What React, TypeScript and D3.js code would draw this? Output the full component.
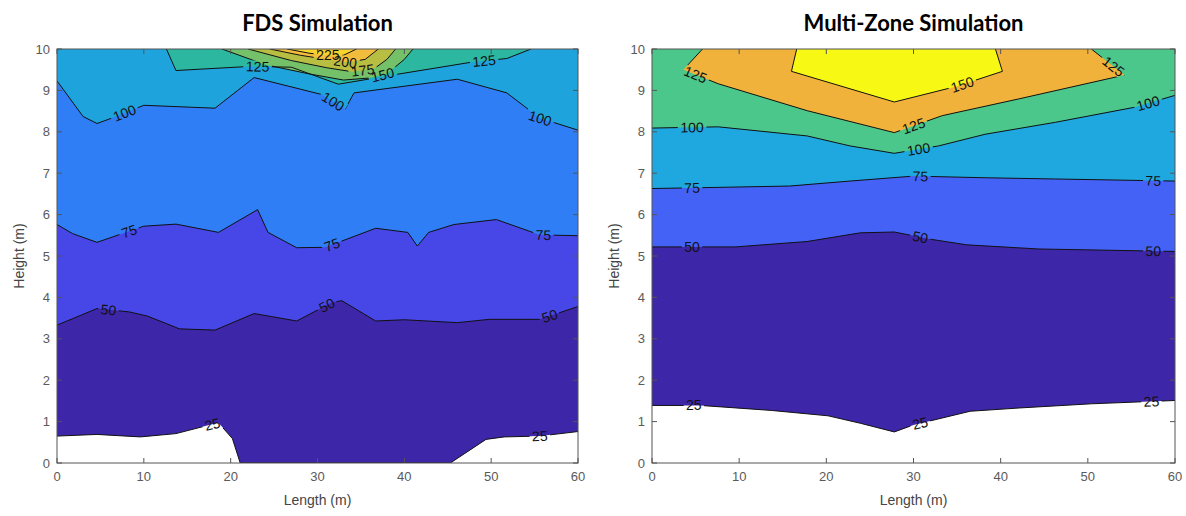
import * as d3 from "d3";

type Pt = [number, number];
type Label = { text: string; x: number; y: number };

const X_TICKS = [0, 10, 20, 30, 40, 50, 60];
const Y_TICKS = [0, 1, 2, 3, 4, 5, 6, 7, 8, 9, 10];

// ---- FDS contour lines (length m, height m) ----
const fds25: Pt[] = [[0, 0.65], [4.6, 0.69], [9.6, 0.63], [13.7, 0.71], [17.4, 0.91], [18.6, 0.97], [20.2, 0.59], [21.1, 0], [45.3, 0], [49.4, 0.57], [51.5, 0.63], [55.6, 0.65], [60, 0.76]];
const fds50: Pt[] = [[0, 3.33], [4.6, 3.73], [8.3, 3.65], [10.4, 3.55], [14.1, 3.24], [18.2, 3.21], [22.7, 3.61], [27.6, 3.43], [31.7, 3.88], [32.8, 3.92], [36.7, 3.43], [40, 3.46], [46.1, 3.39], [49.8, 3.47], [55.6, 3.47], [60, 3.78]];
const fds75: Pt[] = [[0, 5.76], [1.8, 5.54], [4.6, 5.33], [10, 5.72], [13.7, 5.77], [18.6, 5.57], [23.1, 6.12], [24.3, 5.57], [27.6, 5.2], [30.9, 5.21], [36.7, 5.67], [40.4, 5.57], [41.5, 5.24], [42.8, 5.57], [45.7, 5.76], [50.6, 5.88], [55.6, 5.51], [60, 5.49]];
const fds100: Pt[] = [[0, 9.23], [3, 8.37], [4.6, 8.2], [6.3, 8.33], [10, 8.64], [18.2, 8.57], [22.7, 9.31], [30.5, 8.9], [33.2, 8.55], [34.2, 8.94], [46.1, 9.27], [51.8, 8.94], [55.6, 8.33], [60, 8.04]];
const fds125: Pt[] = [[12.6, 10], [13.7, 9.48], [22.3, 9.58], [27, 9.56], [32.4, 9.15], [39.5, 9.4], [47.7, 9.68], [51.8, 9.77], [54.6, 10]];
const fds150: Pt[] = [[19, 10], [24, 9.62], [29, 9.4], [33, 9.25], [36, 9.3], [38, 9.4], [40, 9.75], [41, 10]];
const fds175: Pt[] = [[22, 10], [27, 9.72], [31, 9.55], [34, 9.45], [36.5, 9.52], [38, 9.75], [39, 10]];
const fds200: Pt[] = [[24.5, 10], [28, 9.85], [31, 9.75], [33.5, 9.68], [35.5, 9.75], [37, 10]];
const fds225: Pt[] = [[26.5, 10], [29, 9.9], [31, 9.85], [33, 9.85], [34.5, 10]];
const fdsLines = [fds25, fds50, fds75, fds100, fds125, fds150, fds175, fds200, fds225];
const fdsColors = ["#3e26a8", "#4747e8", "#2f7ef5", "#1fa3dd", "#2bb7a0", "#74c16a", "#b8be42", "#f2bc3c", "#f7d52e"];
const fdsLabels: Label[] = [
  { text: "25", x: 18, y: 0.85 }, { text: "25", x: 55.6, y: 0.64 },
  { text: "50", x: 5.9, y: 3.65 }, { text: "50", x: 31.1, y: 3.8 }, { text: "50", x: 56.8, y: 3.5 },
  { text: "75", x: 8.3, y: 5.6 }, { text: "75", x: 31.7, y: 5.25 }, { text: "75", x: 56, y: 5.47 },
  { text: "100", x: 7.7, y: 8.49 }, { text: "100", x: 31.7, y: 8.7 }, { text: "100", x: 55.6, y: 8.3 },
  { text: "125", x: 23.1, y: 9.58 }, { text: "125", x: 49.2, y: 9.7 },
  { text: "150", x: 37.5, y: 9.37 }, { text: "175", x: 35.2, y: 9.5 },
  { text: "200", x: 33.2, y: 9.7 }, { text: "225", x: 31.2, y: 9.85 },
];

// ---- Multi-zone contour lines ----
const mz25: Pt[] = [[0, 1.39], [5.6, 1.39], [13.7, 1.27], [20.2, 1.14], [23.9, 0.96], [27.8, 0.75], [30, 0.92], [36.5, 1.25], [42.2, 1.33], [50.4, 1.43], [60, 1.51]];
const mz50: Pt[] = [[0, 5.22], [9.6, 5.22], [17.8, 5.35], [23.9, 5.56], [27.8, 5.58], [32.1, 5.4], [36.1, 5.27], [44.3, 5.17], [60, 5.11]];
const mz75: Pt[] = [[0, 6.63], [5.6, 6.65], [15.8, 6.69], [22.7, 6.81], [30, 6.93], [38.2, 6.89], [46.3, 6.86], [60, 6.81]];
const mz100: Pt[] = [[0, 8.09], [7.6, 8.12], [17.8, 7.9], [22.7, 7.66], [27.8, 7.48], [32.9, 7.66], [38.2, 7.94], [46.3, 8.23], [55.3, 8.59], [60, 8.88]];
const mz125: Pt[] = [[5.8, 10], [3.6, 9.5], [7.6, 9.16], [17.8, 8.51], [27.8, 7.98], [33.3, 8.39], [42.2, 8.8], [54.2, 9.37], [50.4, 10]];
const mz150: Pt[] = [[16.6, 10], [16, 9.46], [27.8, 8.72], [35, 9.1], [40.2, 9.46], [39.4, 10]];
const mzLines = [mz25, mz50, mz75, mz100, mz125, mz150];
const mzColors = ["#3e26a8", "#4562f7", "#1fa8df", "#4bc78b", "#f1b23b", "#f8f815"];
const mzLabels: Label[] = [
  { text: "25", x: 4.8, y: 1.35 }, { text: "25", x: 30.8, y: 0.92 }, { text: "25", x: 57.3, y: 1.47 },
  { text: "50", x: 4.6, y: 5.2 }, { text: "50", x: 30.8, y: 5.48 }, { text: "50", x: 57.5, y: 5.1 },
  { text: "75", x: 4.6, y: 6.6 }, { text: "75", x: 30.8, y: 6.95 }, { text: "75", x: 57.5, y: 6.82 },
  { text: "100", x: 4.6, y: 8.08 }, { text: "100", x: 30.6, y: 7.56 }, { text: "100", x: 56.9, y: 8.7 },
  { text: "125", x: 4.8, y: 9.28 }, { text: "125", x: 30, y: 8.15 }, { text: "125", x: 53.2, y: 9.65 },
  { text: "150", x: 35.7, y: 9.08 },
];

const FONT = "'Liberation Sans', Arial, sans-serif";

function Panel(props: {
  id: string; title: string; left: number; right: number;
  lines: Pt[][]; colors: string[]; labels: Label[];
}) {
  const { id, title, left, right, lines, colors, labels } = props;
  const top = 49, bottom = 463;
  const x = d3.scaleLinear().domain([0, 60]).range([left, right]);
  const y = d3.scaleLinear().domain([0, 10]).range([bottom, top]);
  const line = d3.line<Pt>().x((d) => x(d[0])).y((d) => y(d[1]));

  // region >= level: close the line along the top of the plot
  const region = (pts: Pt[]) => {
    const poly = pts.slice();
    if (pts[pts.length - 1][1] < 10) poly.push([60, 10]);
    if (pts[0][1] < 10) poly.push([0, 10]);
    return line(poly) + "Z";
  };

  // put each label on the nearest contour segment and align it with it
  const placed = labels.map((lb) => {
    const px = x(lb.x), py = y(lb.y);
    let best = { d: Infinity, x: px, y: py, a: 0 };
    lines.forEach((pts) => {
      for (let i = 0; i < pts.length - 1; i++) {
        const ax = x(pts[i][0]), ay = y(pts[i][1]);
        const bx = x(pts[i + 1][0]), by = y(pts[i + 1][1]);
        const dx = bx - ax, dy = by - ay;
        const len2 = dx * dx + dy * dy || 1;
        const t = Math.max(0, Math.min(1, ((px - ax) * dx + (py - ay) * dy) / len2));
        const cx = ax + t * dx, cy = ay + t * dy;
        const d = Math.hypot(px - cx, py - cy);
        if (d < best.d) {
          let a = (Math.atan2(dy, dx) * 180) / Math.PI;
          if (a > 90) a -= 180;
          if (a < -90) a += 180;
          best = { d, x: cx, y: cy, a };
        }
      }
    });
    return { ...lb, ...best };
  });

  const cxMid = (left + right) / 2;

  return (
    <g>
      <defs>
        <clipPath id={`clip-${id}`}>
          <rect x={left} y={top} width={right - left} height={bottom - top} />
        </clipPath>
        <mask id={`mask-${id}`}>
          <rect x={0} y={0} width={1186} height={516} fill="white" />
          {placed.map((p, i) => (
            <rect key={i} x={-p.text.length * 4.1 - 2} y={-6} width={p.text.length * 8.2 + 4} height={12}
              fill="black" transform={`translate(${p.x},${p.y}) rotate(${p.a})`} />
          ))}
        </mask>
      </defs>
      <text x={cxMid} y={31} textAnchor="middle" fontFamily="Lato, 'Open Sans', sans-serif"
        fontWeight={700} fontSize={22} fill="#000">{title}</text>
      <rect x={left} y={top} width={right - left} height={bottom - top} fill="#fff" />
      <g clipPath={`url(#clip-${id})`}>
        {lines.map((pts, i) => (
          <path key={i} d={region(pts)} fill={colors[i]} stroke="none" />
        ))}
        <g mask={`url(#mask-${id})`}>
          {lines.map((pts, i) => (
            <path key={i} d={line(pts) ?? ""} fill="none" stroke="#111" strokeWidth={1} strokeLinejoin="round" />
          ))}
        </g>
        {placed.map((p, i) => (
          <text key={i} transform={`translate(${p.x},${p.y}) rotate(${p.a})`} textAnchor="middle"
            dominantBaseline="central" fontFamily={FONT} fontSize={14} fill="#111">{p.text}</text>
        ))}
      </g>
      {/* axes box with inward ticks on all sides */}
      <rect x={left} y={top} width={right - left} height={bottom - top} fill="none" stroke="#555" strokeWidth={1} />
      {X_TICKS.map((t) => (
        <g key={`x${t}`}>
          <line x1={x(t)} x2={x(t)} y1={bottom} y2={bottom - 5} stroke="#555" />
          <line x1={x(t)} x2={x(t)} y1={top} y2={top + 5} stroke="#555" />
          <text x={x(t)} y={481} textAnchor="middle" fontFamily={FONT} fontSize={13} fill="#5a5a5a">{t}</text>
        </g>
      ))}
      {Y_TICKS.map((t) => (
        <g key={`y${t}`}>
          <line x1={left} x2={left + 5} y1={y(t)} y2={y(t)} stroke="#555" />
          <line x1={right} x2={right - 5} y1={y(t)} y2={y(t)} stroke="#555" />
          <text x={left - 7} y={y(t)} textAnchor="end" dominantBaseline="central" fontFamily={FONT}
            fontSize={13} fill="#5a5a5a">{t}</text>
        </g>
      ))}
      <text x={cxMid} y={505} textAnchor="middle" fontFamily={FONT} fontSize={14} fill="#444">Length (m)</text>
      <text transform={`translate(${left - 38},${(top + bottom) / 2}) rotate(-90)`} textAnchor="middle"
        dominantBaseline="central" fontFamily={FONT} fontSize={14} fill="#444">Height (m)</text>
    </g>
  );
}

export default function App() {
  return (
    <svg width={1186} height={516} style={{ position: "absolute", left: 0, top: 0, background: "#fff" }}>
      <Panel id="fds" title="FDS Simulation" left={57} right={578} lines={fdsLines} colors={fdsColors} labels={fdsLabels} />
      <Panel id="mz" title="Multi-Zone Simulation" left={652} right={1175} lines={mzLines} colors={mzColors} labels={mzLabels} />
    </svg>
  );
}
